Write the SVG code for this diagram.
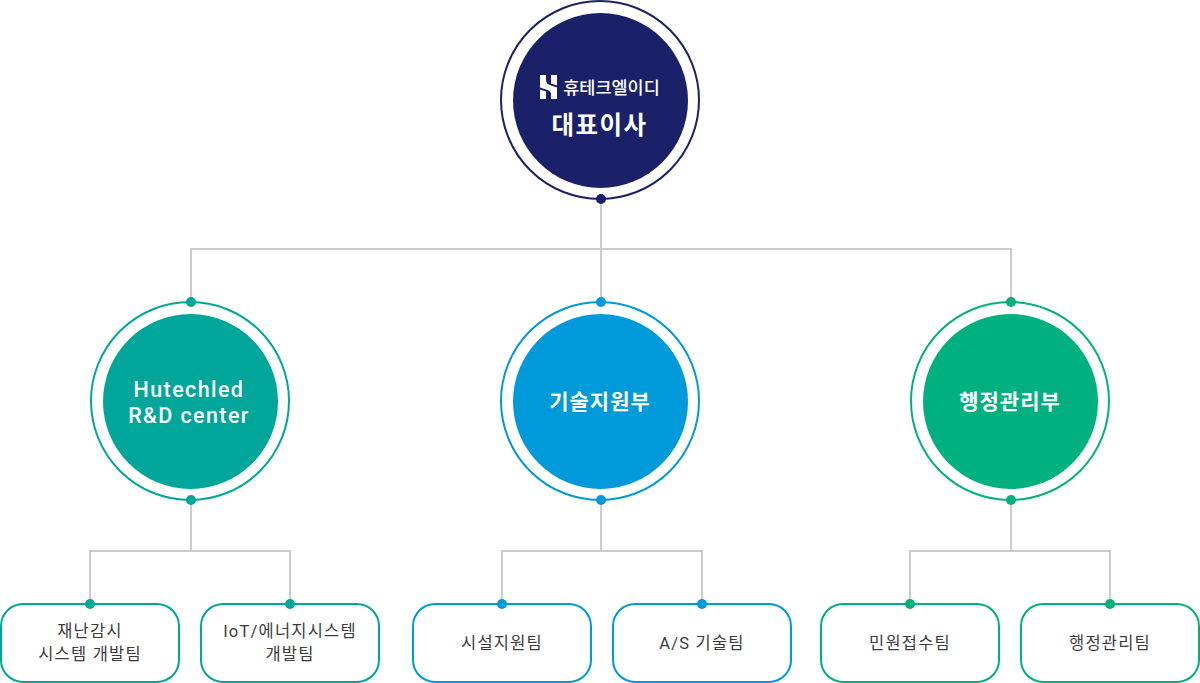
<svg xmlns="http://www.w3.org/2000/svg" width="1200" height="683" viewBox="0 0 1200 683">
<style>
text{font-family:Roboto,"Noto Sans CJK KR",sans-serif;text-anchor:middle}
.w{fill:#fff;font-weight:700;font-size:21px;letter-spacing:1px}
.l{fill:#fff;font-weight:500;font-size:21.500px;letter-spacing:1.400px}
.t{fill:#3c3c3c;font-size:16.500px;font-weight:400;letter-spacing:1.200px}
.ring{fill:#fff;stroke-width:2}
.box{fill:#fff;stroke-width:2}
.c{fill:none;stroke:#ccc;stroke-width:2}
</style>
<rect width="1200" height="683" fill="#fff"/>
<g id="connectors">
<path class="c" d="M601 199V249M191 302V249H1011V302M601 249V302"/>
<path class="c" d="M191 500V551M90 604V551H290V604"/>
<path class="c" d="M601 500V551M502 604V551H702V604"/>
<path class="c" d="M1011 500V551M910 604V551H1110V604"/>
</g>
<g id="ceo">
<circle class="ring" cx="600" cy="100" r="99" stroke="#1a2169"/>
<circle cx="600.500" cy="100.500" r="87.500" fill="#1a2169"/>
<circle cx="601" cy="199" r="5" fill="#1a2169"/>
<path d="M540 75H546V80Q546 84 551 85.500L557 87.500V99H551V94Q551 91 546 89.500L540 87.500ZM551 75H557V85.500L551 83.500ZM540 89.500L546 91.500V99H540Z" fill="#fff"/>
<text x="611.500" y="94" fill="#fff" font-size="17.500" font-weight="500">휴테크엘이디</text>
<text x="599.500" y="134" class="w" style="font-size:24.500px;letter-spacing:1.500px">대표이사</text>
</g>
<g id="rnd">
<circle class="ring" cx="190" cy="401" r="99" stroke="#00a699"/>
<circle cx="190.500" cy="401.500" r="87.500" fill="#00a699"/>
<circle cx="191" cy="302" r="5" fill="#00a699"/>
<circle cx="191" cy="500" r="5" fill="#00a699"/>
<text x="189" y="397" class="l">Hutechled</text>
<text x="189" y="423" class="l">R&amp;D center</text>
</g>
<g id="tech">
<circle class="ring" cx="600" cy="401" r="99" stroke="#009ada"/>
<circle cx="600.500" cy="401.500" r="87.500" fill="#009ada"/>
<circle cx="601" cy="302" r="5" fill="#009ada"/>
<circle cx="601" cy="500" r="5" fill="#009ada"/>
<text x="600" y="409" class="w">기술지원부</text>
</g>
<g id="admin">
<circle class="ring" cx="1010" cy="401" r="99" stroke="#00b07f"/>
<circle cx="1010.500" cy="401.500" r="87.500" fill="#00b07f"/>
<circle cx="1011" cy="302" r="5" fill="#00b07f"/>
<circle cx="1011" cy="500" r="5" fill="#00b07f"/>
<text x="1010" y="409" class="w">행정관리부</text>
</g>
<g id="team1">
<rect class="box" x="1" y="604" width="178" height="78" rx="22" stroke="#00a699"/>
<circle cx="90" cy="604" r="5" fill="#00a699"/>
<text x="90" y="637" class="t">재난감시</text>
<text x="90" y="660" class="t">시스템 개발팀</text>
</g>
<g id="team2">
<rect class="box" x="201" y="604" width="178" height="78" rx="22" stroke="#00a699"/>
<circle cx="290" cy="604" r="5" fill="#00a699"/>
<text x="290" y="637" class="t">IoT/에너지시스템</text>
<text x="290" y="660" class="t">개발팀</text>
</g>
<g id="team3">
<rect class="box" x="413" y="604" width="178" height="78" rx="22" stroke="#009ada"/>
<circle cx="502" cy="604" r="5" fill="#009ada"/>
<text x="502" y="649" class="t">시설지원팀</text>
</g>
<g id="team4">
<rect class="box" x="613" y="604" width="178" height="78" rx="22" stroke="#009ada"/>
<circle cx="702" cy="604" r="5" fill="#009ada"/>
<text x="702" y="649" class="t">A/S 기술팀</text>
</g>
<g id="team5">
<rect class="box" x="821" y="604" width="178" height="78" rx="22" stroke="#00b07f"/>
<circle cx="910" cy="604" r="5" fill="#00b07f"/>
<text x="910" y="649" class="t">민원접수팀</text>
</g>
<g id="team6">
<rect class="box" x="1021" y="604" width="178" height="78" rx="22" stroke="#00b07f"/>
<circle cx="1110" cy="604" r="5" fill="#00b07f"/>
<text x="1110" y="649" class="t">행정관리팀</text>
</g>
</svg>
